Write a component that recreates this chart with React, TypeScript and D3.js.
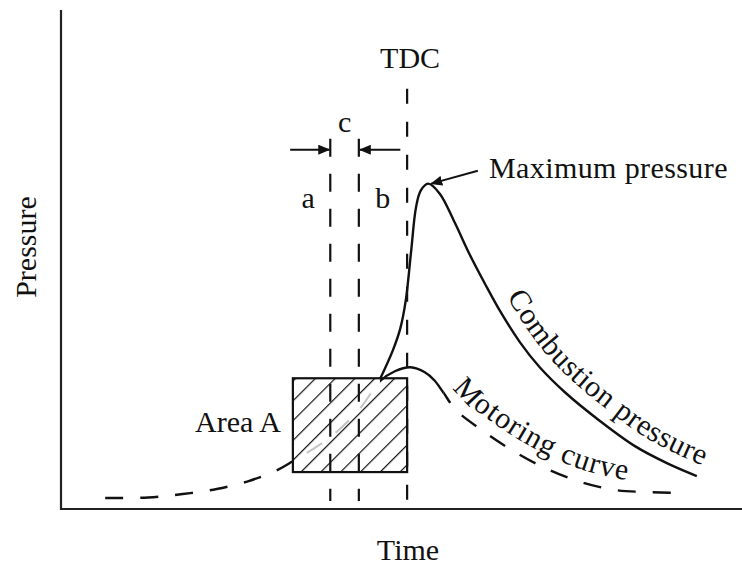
import * as d3 from "d3";

const W = 742;
const H = 568;

// time / pressure in arbitrary units
const motoringTime = [6.5, 12.8, 17.9, 22.9, 27.6, 31.8, 34.1, 39.6, 44, 46.9, 49.1, 51.4, 53.5, 54.9, 56.2, 58.1, 62.1, 66.3, 70.9, 76, 81.5, 86.2, 91];
const motoringPressure = [2.2, 2.3, 3, 4, 5.6, 7.8, 9.6, 14.4, 20.2, 25.6, 27.6, 28.4, 27.4, 25.8, 23.4, 19.8, 15.6, 11.8, 8.4, 5.6, 3.8, 3.4, 3.2];

const combustionTime = [46.9, 48.8, 49.9, 50.7, 51.5, 52.2, 52.9, 54, 55.7, 57.9, 60.1, 62.4, 64.6, 67.5, 70.4, 74.1, 79.3, 84.4, 89.1, 93.5];
const combustionPressure = [26, 31.8, 36.2, 41.8, 51.8, 60.4, 63.8, 65.2, 63.2, 57.4, 51, 45, 39.6, 33.4, 28.4, 23.4, 17.6, 12.6, 9.2, 6.6];

// vertical guides: start of a, end of c, TDC
const guideTime = [39.6, 43.8, 50.9];
const guideTop = [74.2, 74.2, 84.2];
const guideBottom = [1.6, 1.6, 0];

// hatched "Area A"
const areaTime = [34.1, 50.9];
const areaPressure = [7.4, 26.2];

// segments of the motoring curve: dashed / hidden in box / solid / dashed
const motoringBreaks = [34.1, 46.9, 56.2];

const intervalArrowPressure = 72;
const intervalArrowTails = [33.7, 49.9];
const maxLabelAnchor = [61.3, 67.8];

const font = "'Liberation Serif', 'Times New Roman', serif";

export default function App() {
  const x = d3.scaleLinear().domain([0, 100]).range([61, 741]);
  const y = d3.scaleLinear().domain([0, 100]).range([509, 10]);

  const motoring = motoringTime.map((t, i) => [t, motoringPressure[i]]);
  const combustion = combustionTime.map((t, i) => [t, combustionPressure[i]]);

  const line = d3
    .line<number[]>()
    .x((d) => x(d[0]))
    .y((d) => y(d[1]))
    .curve(d3.curveCatmullRom.alpha(0.5));

  const motoringD = line(motoring) || "";
  const combustionD = line(combustion) || "";

  const peakIdx = d3.maxIndex(combustionPressure);
  const descending = combustion.slice(peakIdx);
  const shifted = (dx: number, dy: number) =>
    d3
      .line<number[]>()
      .x((d) => x(d[0]) + dx)
      .y((d) => y(d[1]) + dy)
      .curve(d3.curveCatmullRom.alpha(0.5));
  const motorDesc = motoring.slice(d3.maxIndex(motoringPressure));

  const [x0, x1] = x.range();
  const [b0, b1, b2] = motoringBreaks.map(x);
  const clips = [
    { id: "seg0", from: x0 - 10, to: b0, stroke: "#111", dash: "18 17", width: 2.4 },
    { id: "seg1", from: b0, to: b1, stroke: "#c4c4c4", dash: "18 17", width: 2 },
    { id: "seg2", from: b1, to: b2, stroke: "#111", dash: null, width: 2.4 },
    { id: "seg3", from: b2, to: x1 + 10, stroke: "#111", dash: "18 17", width: 2.4 },
  ];

  const ax = x(guideTime[0]);
  const bx = x(guideTime[1]);
  const arrowY = y(intervalArrowPressure);
  const labelY = 208;

  return (
    <svg
      width={W}
      height={H}
      style={{ position: "absolute", left: 0, top: 0, background: "#fff" }}
      fontFamily={font}
    >
      <defs>
        <pattern id="hatch" width={14} height={14} patternUnits="userSpaceOnUse" patternTransform="rotate(45)">
          <line x1={0} y1={0} x2={0} y2={14} stroke="#111" strokeWidth={2.4} />
        </pattern>
        <marker id="arrow" viewBox="0 0 12 10" refX={11} refY={5} markerWidth={12} markerHeight={10} markerUnits="userSpaceOnUse" orient="auto">
          <path d="M0,0L12,5L0,10z" fill="#111" />
        </marker>
        {clips.map((c) => (
          <clipPath key={c.id} id={c.id}>
            <rect x={c.from} y={0} width={c.to - c.from} height={H} />
          </clipPath>
        ))}
        <path id="combLabel" d={shifted(10, -9)(descending) || ""} />
        <path id="motorLabel" d={shifted(6, -11)(motorDesc) || ""} />
      </defs>

      {/* axes */}
      <path d={`M${x0},${y(100)}V${y(0)}H${W}`} fill="none" stroke="#222" strokeWidth={2.2} />

      {/* guides */}
      {guideTime.map((t, i) => (
        <line
          key={i}
          x1={x(t)}
          x2={x(t)}
          y1={y(guideTop[i])}
          y2={y(guideBottom[i])}
          stroke="#111"
          strokeWidth={2.2}
          strokeDasharray={i === 2 ? "15 18" : "18 17"}
        />
      ))}

      {/* Area A */}
      <rect
        x={x(areaTime[0])}
        y={y(areaPressure[1])}
        width={x(areaTime[1]) - x(areaTime[0])}
        height={y(areaPressure[0]) - y(areaPressure[1])}
        fill="url(#hatch)"
        stroke="#111"
        strokeWidth={2.2}
      />

      {/* motoring curve */}
      {clips.map((c) => (
        <path
          key={c.id}
          d={motoringD}
          clipPath={`url(#${c.id})`}
          fill="none"
          stroke={c.stroke}
          strokeWidth={c.width}
          strokeDasharray={c.dash || undefined}
        />
      ))}

      {/* combustion curve */}
      <path d={combustionD} fill="none" stroke="#111" strokeWidth={2.4} />

      {/* interval arrows */}
      <line x1={x(intervalArrowTails[0])} x2={ax - 1} y1={arrowY} y2={arrowY} stroke="#111" strokeWidth={2} markerEnd="url(#arrow)" />
      <line x1={x(intervalArrowTails[1])} x2={bx + 1} y1={arrowY} y2={arrowY} stroke="#111" strokeWidth={2} markerEnd="url(#arrow)" />

      {/* maximum pressure arrow */}
      <line
        x1={x(maxLabelAnchor[0])}
        y1={y(maxLabelAnchor[1])}
        x2={x(combustionTime[peakIdx]) + 3}
        y2={y(combustionPressure[peakIdx])}
        stroke="#111"
        strokeWidth={2}
        markerEnd="url(#arrow)"
      />

      <g fill="#111" fontSize={30}>
        <text x={x(guideTime[2]) + 3} y={68} textAnchor="middle">TDC</text>
        <text x={(ax + bx) / 2} y={132} textAnchor="middle">c</text>
        <text x={ax - 22} y={labelY} textAnchor="middle">a</text>
        <text x={bx + 24} y={labelY} textAnchor="middle">b</text>
        <text x={489} y={178} letterSpacing={0.4}>Maximum pressure</text>
        <text x={238} y={432} textAnchor="middle">Area A</text>
        <text x={408} y={560} textAnchor="middle">Time</text>
        <text transform="translate(36,247) rotate(-90)" textAnchor="middle">Pressure</text>
        <text letterSpacing={0.5}>
          <textPath href="#combLabel" startOffset="99%" textAnchor="end">Combustion pressure</textPath>
        </text>
        <text letterSpacing={1}>
          <textPath href="#motorLabel" startOffset={50}>Motoring curve</textPath>
        </text>
      </g>
    </svg>
  );
}
